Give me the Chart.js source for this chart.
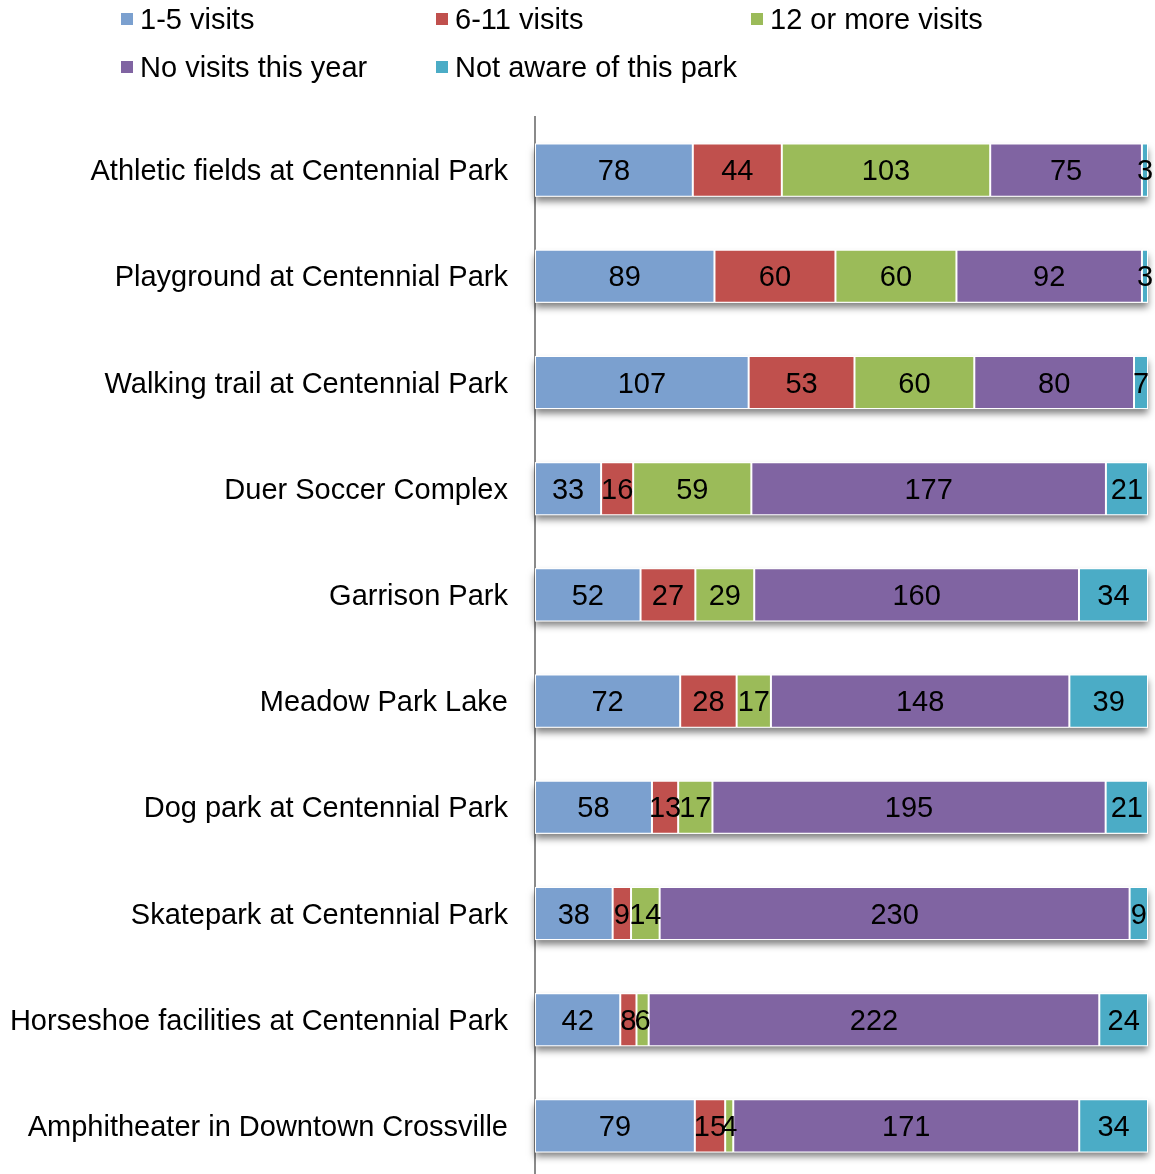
<!DOCTYPE html>
<html>
<head>
<meta charset="utf-8">
<script src="https://cdn.jsdelivr.net/npm/chart.js@4/dist/chart.umd.min.js"></script>
<style>
	body { margin: 0; background: #fff; overflow: hidden; }
	#wrap { position: relative; width: 1155px; height: 1180px; }
</style>
</head>
<body>
<div id="wrap"><canvas id="grafico"></canvas></div>
<script>
const categorias = [
	'Athletic fields at Centennial Park',
	'Playground at Centennial Park',
	'Walking trail at Centennial Park',
	'Duer Soccer Complex',
	'Garrison Park',
	'Meadow Park Lake',
	'Dog park at Centennial Park',
	'Skatepark at Centennial Park',
	'Horseshoe facilities at Centennial Park',
	'Amphitheater in Downtown Crossville'
];
const visitas1a5 = [78, 89, 107, 33, 52, 72, 58, 38, 42, 79];
const visitas6a11 = [44, 60, 53, 16, 27, 28, 13, 9, 8, 15];
const visitas12mais = [103, 60, 60, 59, 29, 17, 17, 14, 6, 4];
const semVisitas = [75, 92, 80, 177, 160, 148, 195, 230, 222, 171];
const naoConhece = [3, 3, 7, 21, 34, 39, 21, 9, 24, 34];

const series = [
	{ label: '1-5 visits', valores: visitas1a5, cor: '#7BA0CF' },
	{ label: '6-11 visits', valores: visitas6a11, cor: '#C0504D' },
	{ label: '12 or more visits', valores: visitas12mais, cor: '#9BBB59' },
	{ label: 'No visits this year', valores: semVisitas, cor: '#8064A2' },
	{ label: 'Not aware of this park', valores: naoConhece, cor: '#4BACC6' }
];

const FONTE = "'Liberation Sans', Arial, sans-serif";

// total de respostas por linha, para empilhar em 100%
const totais = categorias.map((_, i) => series.reduce((s, serie) => s + serie.valores[i], 0));

// sombra cinza embaixo de cada barra
const pluginSombra = {
	id: 'sombra',
	beforeDatasetsDraw(chart) {
		const ctx = chart.ctx;
		const metaUltima = chart.getDatasetMeta(chart.data.datasets.length - 1);
		ctx.save();
		ctx.fillStyle = '#fff';
		ctx.shadowColor = 'rgba(0,0,0,0.5)';
		ctx.shadowBlur = 7;
		ctx.shadowOffsetY = 5;
		metaUltima.data.forEach(el => {
			const h = el.height;
			ctx.fillRect(chart.chartArea.left, el.y - h / 2, el.x - chart.chartArea.left, h);
		});
		ctx.restore();
	}
};

// numeros no meio de cada segmento
const pluginRotulos = {
	id: 'rotulos',
	afterDatasetsDraw(chart) {
		const ctx = chart.ctx;
		ctx.save();
		ctx.font = '29px ' + FONTE;
		ctx.fillStyle = '#000';
		ctx.textAlign = 'center';
		ctx.textBaseline = 'middle';
		chart.data.datasets.forEach((ds, d) => {
			chart.getDatasetMeta(d).data.forEach((el, i) => {
				ctx.fillText(String(ds.contagens[i]), (el.x + el.base) / 2, el.y + 2);
			});
		});
		ctx.restore();
	}
};

// legenda em duas linhas, tres colunas
const pluginLegenda = {
	id: 'legendaGrade',
	afterDraw(chart) {
		const ctx = chart.ctx;
		const colunas = [121, 436, 751];
		const linhas = [19, 67];
		ctx.save();
		ctx.font = '29px ' + FONTE;
		ctx.textBaseline = 'middle';
		ctx.textAlign = 'left';
		chart.data.datasets.forEach((ds, i) => {
			const x = colunas[i % 3];
			const y = linhas[Math.floor(i / 3)];
			ctx.fillStyle = ds.backgroundColor;
			ctx.fillRect(x, y - 6, 12, 12);
			ctx.fillStyle = '#000';
			ctx.fillText(ds.label, x + 19, y + 2);
		});
		ctx.restore();
	}
};

function montaGrafico() {
	const ctx = document.getElementById('grafico');
	return new Chart(ctx, {
		type: 'bar',
		data: {
			labels: categorias,
			datasets: series.map(s => ({
				label: s.label,
				data: s.valores.map((v, i) => v / totais[i] * 100),
				contagens: s.valores,
				backgroundColor: s.cor,
				borderColor: '#fff',
				borderWidth: 1,
				borderSkipped: false,
				barPercentage: 0.5,
				categoryPercentage: 1
			}))
		},
		options: {
			indexAxis: 'y',
			responsive: true,
			maintainAspectRatio: false,
			animation: false,
			layout: { padding: { top: 117, right: 7, bottom: 1, left: 0 } },
			scales: {
				x: {
					stacked: true,
					display: false,
					min: 0,
					max: 100
				},
				y: {
					stacked: true,
					afterFit(scale) {
						scale.width = 535;
						scale.paddingTop = 0;
						scale.paddingBottom = 0;
					},
					grid: { display: false, drawTicks: false },
					border: { display: true, color: '#8A8A8A', width: 2 },
					ticks: {
						padding: 27,
						labelOffset: 2,
						color: '#000',
						font: { family: FONTE, size: 29 }
					}
				}
			},
			plugins: {
				legend: { display: false },
				tooltip: { enabled: false }
			}
		},
		plugins: [pluginSombra, pluginRotulos, pluginLegenda]
	});
}

window.onload = () => {
	montaGrafico();
};
</script>
</body>
</html>
